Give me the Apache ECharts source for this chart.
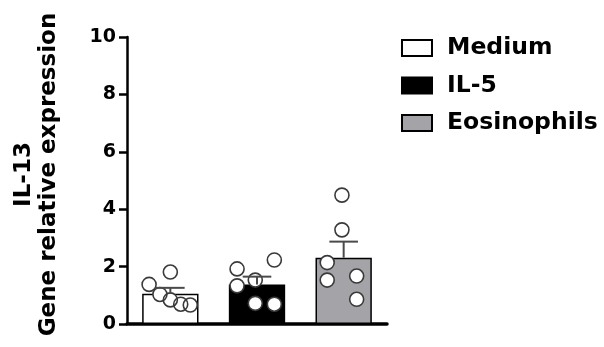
<!DOCTYPE html>
<html>
<head>
<meta charset="utf-8">
<script src="https://cdn.jsdelivr.net/npm/echarts@6/dist/echarts.min.js"></script>
<style>
  html, body { margin: 0; padding: 0; background: #fff; }
  #chart { width: 604px; height: 347px; }
</style>
</head>
<body>
<div id="chart"></div>
<script>
// Groups and summary values (mean and SEM of relative expression)
const groups = ['Medium', 'IL-5', 'Eosinophils'];
const means = [1.05, 1.38, 2.31];
const sems = [0.21, 0.27, 0.56];

// Individual replicate values per group
const mediumPoints = [1.38, 1.81, 1.03, 0.84, 0.69, 0.66];
const il5Points = [1.92, 1.33, 1.53, 2.23, 0.72, 0.69];
const eosPoints = [4.49, 3.28, 2.14, 1.53, 1.67, 0.86];

// Y-axis ticks
const yTicks = [0, 2, 4, 6, 8, 10];

// Horizontal scatter of the dots, as a fraction of the category band
const dotJitter = [
  [-0.245, 0.0, -0.12, 0.0, 0.12, 0.23],
  [-0.23, -0.23, -0.02, 0.2, -0.02, 0.2],
  [-0.02, -0.02, -0.19, -0.19, 0.15, 0.15]
];

const fillColors = ['#ffffff', '#000000', '#a4a4a8'];
const FONT = 'DejaVu Sans';

const pointSets = [mediumPoints, il5Points, eosPoints];
const dotData = [];
pointSets.forEach((pts, gi) => {
  pts.forEach((v, k) => dotData.push([gi, v, dotJitter[gi][k]]));
});

const barSeries = groups.map((g, i) => ({
  name: g,
  type: 'bar',
  barWidth: '65%',
  barGap: '-100%',
  data: groups.map((_, j) => (j === i ? means[i] : '-')),
  itemStyle: { color: fillColors[i], borderColor: '#000', borderWidth: 1.5 },
  emphasis: { disabled: true },
  z: 2
}));

function dotRender(fill) {
  return function (params, api) {
    const p = api.coord([api.value(0), api.value(1)]);
    const bw = api.size([1, 0])[0];
    return {
      type: 'circle',
      shape: { cx: p[0] + api.value(2) * bw, cy: p[1], r: 7 },
      style: fill
        ? { fill: '#fff', stroke: null }
        : { fill: null, stroke: '#3a3a3a', lineWidth: 1.6 }
    };
  };
}

const errData = groups.map((_, i) => [i, means[i], means[i] + sems[i]]);

const option = {
  animation: false,
  grid: {
    left: 127, right: 217, top: 37, bottom: 23,
    containLabel: false, outerBoundsMode: 'none'
  },
  legend: {
    orient: 'vertical',
    left: 396,
    top: 31,
    icon: 'rect',
    itemWidth: 30,
    itemHeight: 16,
    itemGap: 13.5,
    selectedMode: false,
    data: groups,
    textStyle: {
      fontFamily: FONT, fontWeight: 'bold', fontSize: 23.5, color: '#000',
      padding: [0, 0, 0, 10]
    }
  },
  xAxis: {
    type: 'category',
    data: groups,
    axisLine: { show: true, lineStyle: { color: '#000', width: 3.5 } },
    axisTick: { show: false },
    axisLabel: { show: false },
    splitLine: { show: false }
  },
  yAxis: {
    type: 'value',
    min: yTicks[0],
    max: yTicks[yTicks.length - 1],
    interval: yTicks[1] - yTicks[0],
    name: 'IL-13\nGene relative expression',
    nameLocation: 'middle',
    nameRotate: 90,
    nameGap: 65,
    nameTextStyle: {
      fontFamily: FONT, fontWeight: 'bold', fontSize: 23, color: '#000',
      lineHeight: 25, align: 'center', padding: [0, 0, 0, 12]
    },
    axisLine: { show: true, lineStyle: { color: '#000', width: 2.5 } },
    axisTick: { show: true, length: 8, lineStyle: { color: '#000', width: 2.5 } },
    axisLabel: {
      margin: 11, fontFamily: FONT, fontWeight: 'bold', fontSize: 19, color: '#000'
    },
    splitLine: { show: false }
  },
  series: [
    ...barSeries,
    {
      type: 'custom',
      name: 'dot fill',
      data: dotData,
      renderItem: dotRender(true),
      z: 3,
      silent: true
    },
    {
      type: 'custom',
      name: 'dot outline',
      data: dotData,
      renderItem: dotRender(false),
      z: 4,
      silent: true
    },
    {
      type: 'custom',
      name: 'sem',
      data: errData,
      renderItem: function (params, api) {
        const base = api.coord([api.value(0), api.value(1)]);
        const top = api.coord([api.value(0), api.value(2)]);
        const bw = api.size([1, 0])[0];
        const half = bw * 0.165;
        return {
          type: 'group',
          children: [
            { type: 'line', shape: { x1: base[0], y1: base[1], x2: top[0], y2: top[1] },
              style: { stroke: '#4a4a4a', lineWidth: 2 } },
            { type: 'line', shape: { x1: top[0] - half, y1: top[1], x2: top[0] + half, y2: top[1] },
              style: { stroke: '#4a4a4a', lineWidth: 2 } }
          ]
        };
      },
      z: 5,
      silent: true
    }
  ]
};

const chart = echarts.init(document.getElementById('chart'), null, { renderer: 'canvas' });
chart.setOption(option);
</script>
</body>
</html>
